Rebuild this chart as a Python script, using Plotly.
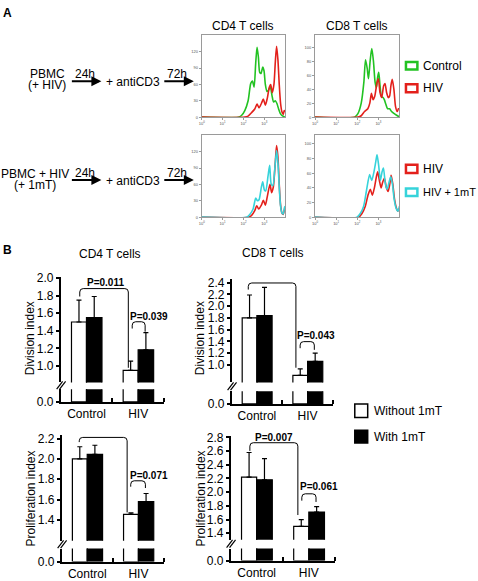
import plotly.graph_objects as go

W, H = 478, 581
FONT = "Arial, 'Liberation Sans', sans-serif"
GREEN = "#22c222"
RED = "#e3201b"
CYAN = "#36d3da"

# ---------------- Panel A: CFSE histograms (log10 fluorescence, event counts) ----------------
cd4_top_ctrl_log = [0, 1.746, 1.905, 2.063, 2.222, 2.349, 2.429, 2.508, 2.587, 2.651, 2.714, 2.778, 2.841,
                    2.921, 2.984, 3.048, 3.127, 3.206, 3.286, 3.365, 3.444, 3.524, 3.603, 3.683, 3.762,
                    3.841, 3.937, 4.0]
cd4_top_ctrl_cnt = [0, 0, 3, 12, 30, 62, 66, 55, 100, 128, 110, 82, 80, 92, 85, 60, 47, 50, 55, 40, 28, 30,
                    25, 15, 7, 3, 1, 0]
cd4_top_hiv_log = [0, 2.063, 2.222, 2.381, 2.540, 2.651, 2.746, 2.857, 2.952, 3.048, 3.143, 3.238, 3.302,
                   3.381, 3.460, 3.524, 3.587, 3.651, 3.714, 3.778, 3.841, 3.905, 3.952, 4.0]
cd4_top_hiv_cnt = [0, 0, 2, 8, 15, 24, 17, 25, 33, 22, 35, 55, 60, 45, 60, 100, 130, 105, 60, 25, 10, 5, 12, 10]

cd8_top_ctrl_log = [0, 1.875, 2.031, 2.188, 2.313, 2.391, 2.469, 2.531, 2.609, 2.688, 2.766, 2.844, 2.906,
                    2.969, 3.016, 3.078, 3.141, 3.219, 3.281, 3.359, 3.438, 3.531, 3.625, 3.75, 3.906, 4.0]
cd8_top_ctrl_cnt = [0, 0, 5, 20, 50, 82, 70, 55, 80, 98, 80, 50, 42, 58, 64, 45, 30, 28, 25, 18, 12, 12, 8,
                    5, 2, 0]
cd8_top_hiv_log = [0, 2.031, 2.188, 2.344, 2.5, 2.594, 2.672, 2.75, 2.828, 2.938, 3.0, 3.078, 3.156, 3.25,
                   3.313, 3.391, 3.469, 3.531, 3.594, 3.656, 3.734, 3.813, 3.891, 3.953, 4.0]
cd8_top_hiv_cnt = [0, 0, 2, 8, 12, 20, 34, 25, 30, 50, 55, 35, 28, 45, 48, 35, 28, 30, 45, 54, 40, 15, 8, 12, 12]

cd4_bot_hiv_log = [0, 2.222, 2.381, 2.540, 2.635, 2.730, 2.857, 2.952, 3.048, 3.143, 3.270, 3.349, 3.429,
                   3.524, 3.587, 3.651, 3.714, 3.778, 3.841, 3.905, 3.968, 4.0]
cd4_bot_hiv_cnt = [0, 0, 3, 12, 21, 15, 22, 31, 22, 38, 60, 45, 55, 100, 131, 110, 60, 22, 8, 5, 15, 18]
cd4_bot_mt_log = [0, 2.143, 2.302, 2.460, 2.587, 2.667, 2.746, 2.857, 2.921, 3.0, 3.063, 3.175, 3.254, 3.333,
                  3.413, 3.492, 3.587, 3.651, 3.714, 3.778, 3.841, 3.905, 3.968, 4.0]
cd4_bot_mt_cnt = [0, 0, 5, 15, 35, 30, 32, 55, 65, 50, 48, 75, 95, 60, 58, 85, 122, 100, 55, 20, 8, 6, 18, 20]

cd8_bot_hiv_log = [0, 2.063, 2.222, 2.381, 2.508, 2.619, 2.714, 2.810, 2.905, 2.968, 3.048, 3.127, 3.206,
                   3.286, 3.381, 3.460, 3.540, 3.603, 3.683, 3.762, 3.857, 3.921, 4.0]
cd8_bot_hiv_cnt = [0, 0, 5, 15, 30, 38, 30, 40, 55, 62, 50, 40, 48, 53, 40, 35, 45, 57, 45, 25, 12, 8, 12]
cd8_bot_mt_log = [0, 1.984, 2.143, 2.302, 2.429, 2.587, 2.683, 2.778, 2.873, 2.937, 3.016, 3.095, 3.175, 3.238,
                  3.333, 3.413, 3.508, 3.587, 3.667, 3.746, 3.841, 3.921, 4.0]
cd8_bot_mt_cnt = [0, 0, 5, 15, 35, 58, 50, 60, 75, 85, 70, 50, 62, 67, 45, 38, 48, 55, 45, 25, 12, 8, 15]

hist_xticks = [1, 10, 100, 1000]
hist_xticktext = ["10<sup>0</sup>", "10<sup>1</sup>", "10<sup>2</sup>", "10<sup>3</sup>"]
cd4_hist_yticks = [0, 30, 60, 90, 120]
cd8_hist_yticks = [0, 20, 40, 60, 80, 100]

# ---------------- Panel B: bar data ----------------
categories = ["Control", "HIV"]
cd4_div_without = [1.50, 0.95]
cd4_div_without_err = [0.25, 0.105]
cd4_div_with = [1.55, 1.185]
cd4_div_with_err = [0.24, 0.195]
cd8_div_without = [1.80, 0.82]
cd8_div_without_err = [0.39, 0.11]
cd8_div_with = [1.84, 1.06]
cd8_div_with_err = [0.48, 0.14]
cd4_pro_without = [2.00, 1.455]
cd4_pro_without_err = [0.12, 0.015]
cd4_pro_with = [2.045, 1.58]
cd4_pro_with_err = [0.09, 0.08]
cd8_pro_without = [2.22, 1.50]
cd8_pro_without_err = [0.36, 0.10]
cd8_pro_with = [2.18, 1.71]
cd8_pro_with_err = [0.31, 0.08]

cd4_div_ticks = [1.0, 1.2, 1.4, 1.6, 1.8, 2.0]
cd8_div_ticks = [1.0, 1.2, 1.4, 1.6, 1.8, 2.0, 2.2, 2.4]
cd4_pro_ticks = [1.4, 1.6, 1.8, 2.0, 2.2]
cd8_pro_ticks = [1.4, 1.6, 1.8, 2.0, 2.2, 2.4, 2.6, 2.8]

# P-value brackets: (label, x_left, x_right, y_top, y_left_end, y_right_end, label_x, label_y)
cd4_div_p = [("P=0.011", -0.13, 0.81, 1.88, 1.79, 0.98, 0.365, 1.948),
             ("P=0.039", 0.885, 1.135, 1.503, 1.426, 1.39, 1.21, 1.56)]
cd8_div_p = [("P=0.004", -0.17, 0.77, 2.395, 2.283, 0.95, 0.29, 2.505),
             ("P=0.043", 0.853, 1.133, 1.395, 1.283, 1.255, 1.167, 1.505)]
cd4_pro_p = [("P=0.022", -0.156, 0.78, 2.212, 2.166, 1.474, 0.345, 2.288),
             ("P=0.071", 0.85, 1.137, 1.785, 1.727, 1.714, 1.21, 1.84)]
cd8_pro_p = [("P=0.007", -0.13, 0.79, 2.723, 2.604, 1.666, 0.338, 2.794),
             ("P=0.061", 0.866, 1.138, 1.976, 1.876, 1.857, 1.195, 2.09)]


def xd(a, b):
    return [a / W, b / W]


def yd(top, bottom):
    return [1 - bottom / H, 1 - top / H]


def akey(letter, i):
    return f"{letter}axis" if i == 1 else f"{letter}axis{i}"


def aref(letter, i):
    return letter if i == 1 else f"{letter}{i}"


fig = go.Figure()
layout = dict(width=W, height=H, margin=dict(l=0, r=0, t=0, b=0), paper_bgcolor="white",
              plot_bgcolor="white", showlegend=False, barmode="overlay",
              font=dict(family=FONT, color="black", size=12))
shapes = []
annotations = []


def ann(text, x, y, size=12, bold=False, xanchor="center", angle=0):
    annotations.append(dict(text=f"<b>{text}</b>" if bold else text, x=x / W, y=1 - y / H,
                            xref="paper", yref="paper", showarrow=False, xanchor=xanchor,
                            yanchor="middle", textangle=angle, font=dict(size=size, family=FONT)))


# ---------- histograms ----------
hists = [
    (1, (200, 284), (30, 113.7), [0, 150], cd4_hist_yticks,
     [(cd4_top_ctrl_log, cd4_top_ctrl_cnt, GREEN), (cd4_top_hiv_log, cd4_top_hiv_cnt, RED)]),
    (2, (314, 399), (30, 113.7), [0, 117], cd8_hist_yticks,
     [(cd8_top_ctrl_log, cd8_top_ctrl_cnt, GREEN), (cd8_top_hiv_log, cd8_top_hiv_cnt, RED)]),
    (3, (200, 284), (131.7, 216), [0, 151], cd4_hist_yticks,
     [(cd4_bot_hiv_log, cd4_bot_hiv_cnt, RED), (cd4_bot_mt_log, cd4_bot_mt_cnt, CYAN)]),
    (4, (314, 399), (132, 216), [0, 112], cd8_hist_yticks,
     [(cd8_bot_hiv_log, cd8_bot_hiv_cnt, RED), (cd8_bot_mt_log, cd8_bot_mt_cnt, CYAN)]),
]
for i, xdom, ydom, yr, yt, series in hists:
    common = dict(showline=True, mirror=True, linecolor="#9a9a9a", linewidth=1, ticks="outside",
                  ticklen=2, tickcolor="#9a9a9a", tickfont=dict(size=4, color="#555"),
                  showgrid=False, zeroline=False)
    layout[akey("x", i)] = dict(domain=xd(*xdom), anchor=aref("y", i), type="log", range=[0, 4],
                                tickvals=hist_xticks, ticktext=hist_xticktext, **common)
    layout[akey("y", i)] = dict(domain=yd(*ydom), anchor=aref("x", i), range=yr, tickvals=yt, **common)
    for logs, cnts, col in series:
        fig.add_trace(go.Scatter(x=[10 ** v for v in logs], y=cnts, mode="lines",
                                 line=dict(color=col, width=1.6, shape="spline", smoothing=0.7),
                                 xaxis=aref("x", i), yaxis=aref("y", i), hoverinfo="skip"))

# ---------- bar charts ----------
charts = [
    dict(x=(58, 162), up=(277, 385), low=(392, 405), ur=(0.814, 2.014), lr=(0, 0.144),
         ticks=cd4_div_ticks, wo=cd4_div_without, woe=cd4_div_without_err, wi=cd4_div_with,
         wie=cd4_div_with_err, p=cd4_div_p),
    dict(x=(230, 332), up=(279, 385), low=(394, 407), ur=(0.7, 2.467), lr=(0, 0.217),
         ticks=cd8_div_ticks, wo=cd8_div_without, woe=cd8_div_without_err, wi=cd8_div_with,
         wie=cd8_div_with_err, p=cd8_div_p),
    dict(x=(59, 162), up=(439, 547), low=(555, 568.3), ur=(1.195, 2.234), lr=(0, 0.128),
         ticks=cd4_pro_ticks, wo=cd4_pro_without, woe=cd4_pro_without_err, wi=cd4_pro_with,
         wie=cd4_pro_with_err, p=cd4_pro_p),
    dict(x=(229, 334), up=(440, 546), low=(555, 567.3), ur=(1.304, 2.819), lr=(0, 0.176),
         ticks=cd8_pro_ticks, wo=cd8_pro_without, woe=cd8_pro_without_err, wi=cd8_pro_with,
         wie=cd8_pro_with_err, p=cd8_pro_p),
]
xpos = list(range(len(categories)))
for ci, ch in enumerate(charts):
    xi, yu, yl = 5 + ci, 5 + 2 * ci, 6 + 2 * ci
    yax = dict(showline=True, linecolor="black", linewidth=1.5, ticks="outside", ticklen=3,
               tickwidth=1.5, tickcolor="black", showgrid=False, zeroline=False,
               tickfont=dict(size=12, family=FONT))
    layout[akey("x", xi)] = dict(domain=xd(*ch["x"]), anchor=aref("y", yl), range=[-0.5, 1.5],
                                 tickvals=xpos, ticktext=categories, ticks="", showline=True,
                                 linecolor="black", linewidth=1.5, showgrid=False, zeroline=False,
                                 tickfont=dict(size=12, family=FONT),
                                 minor=dict(tickmode="array", tickvals=[0.5, 1.5], ticks="inside",
                                            ticklen=4, tickwidth=1.5, tickcolor="black"))
    layout[akey("y", yu)] = dict(domain=yd(*ch["up"]), anchor=aref("x", xi), range=list(ch["ur"]),
                                 tickvals=ch["ticks"], tickformat=".1f", **yax)
    layout[akey("y", yl)] = dict(domain=yd(*ch["low"]), anchor=aref("x", xi), range=list(ch["lr"]),
                                 tickvals=[0], ticktext=["0.0"], **yax)
    for vals, errs, fill, off, wd in [(ch["wo"], ch["woe"], "white", -0.29, 0.29),
                                      (ch["wi"], ch["wie"], "black", 0.0, 0.30)]:
        fig.add_trace(go.Bar(x=xpos, y=vals, width=wd, offset=off, xaxis=aref("x", xi),
                             yaxis=aref("y", yu),
                             marker=dict(color=fill, line=dict(color="black", width=1.2)),
                             error_y=dict(type="data", symmetric=False, array=errs,
                                          arrayminus=[0] * len(errs), color="black",
                                          thickness=1.2, width=2.5),
                             hoverinfo="skip"))
        fig.add_trace(go.Bar(x=xpos, y=vals, width=wd, offset=off, xaxis=aref("x", xi),
                             yaxis=aref("y", yl),
                             marker=dict(color=fill, line=dict(color="black", width=1.2)),
                             hoverinfo="skip"))
    # brackets
    ppx = (ch["x"][1] - ch["x"][0]) / 2.0
    ppy = (ch["up"][1] - ch["up"][0]) / (ch["ur"][1] - ch["ur"][0])
    rx, ry = 3.5 / ppx, 3.5 / ppy
    for lab, xl, xr, yt, ybl, ybr, lx, ly in ch["p"]:
        path = (f"M {xl},{ybl} L {xl},{yt - ry} Q {xl},{yt} {xl + rx},{yt} "
                f"L {xr - rx},{yt} Q {xr},{yt} {xr},{yt - ry} L {xr},{ybr}")
        shapes.append(dict(type="path", path=path, xref=aref("x", xi), yref=aref("y", yu),
                           line=dict(color="black", width=1)))
        annotations.append(dict(text=f"<b>{lab}</b>", x=lx, y=ly, xref=aref("x", xi),
                                yref=aref("y", yu), showarrow=False, yanchor="middle",
                                font=dict(size=10, family=FONT)))
    # axis break marks
    x0 = ch["x"][0]
    gm = (ch["up"][1] + ch["low"][0]) / 2.0
    for dx in (0, 3):
        shapes.append(dict(type="line", xref="paper", yref="paper",
                           x0=(x0 - 4 + dx) / W, y0=1 - (gm + 3.5) / H,
                           x1=(x0 + 2 + dx) / W, y1=1 - (gm - 4.5) / H,
                           line=dict(color="black", width=1.2)))

# ---------- text, flowchart, legends ----------
ann("A", 5, 7, size=12, bold=True)
ann("B", 5, 250, size=12, bold=True)
ann("CD4 T cells", 242, 20)
ann("CD8 T cells", 356, 20)
ann("CD4 T cells", 108, 254)
ann("CD8 T cells", 272, 253)

ann("PBMC", 45, 70)
ann("(+ HIV)", 44.5, 81)
ann("PBMC + HIV", 32, 171.5)
ann("(+ 1mT)", 31.7, 183.5)
for yrow, ytxt in ((77, 69.5), (178, 171)):
    ann("24h", 83, ytxt)
    ann("72h", 175, ytxt)
    ann("+ antiCD3", 130.5, yrow + 0.5)
    for xhead in (99, 192):
        annotations.append(dict(text="", x=xhead / W, y=1 - yrow / H, xref="paper", yref="paper",
                                ax=-31, ay=0, axref="pixel", ayref="pixel", showarrow=True,
                                arrowhead=2, arrowsize=1, arrowwidth=2, arrowcolor="black"))

for (y0, y1, col, label, fs) in [(57.3, 65, GREEN, "Control", 12), (80, 88.3, RED, "HIV", 12),
                                 (162.3, 170.7, RED, "HIV", 12),
                                 (186.7, 194.3, CYAN, "HIV + 1mT", 11)]:
    shapes.append(dict(type="rect", xref="paper", yref="paper", x0=405.5 / W, x1=417 / W,
                       y0=1 - y1 / H, y1=1 - y0 / H, line=dict(color=col, width=2.5),
                       fillcolor="white"))
    ann(label, 421, (y0 + y1) / 2, size=fs, xanchor="left")

for (y0, y1, fill, label) in [(407, 421, "white", "Without 1mT"), (434, 447, "black", "With 1mT")]:
    shapes.append(dict(type="rect", xref="paper", yref="paper", x0=354 / W, x1=367 / W,
                       y0=1 - y1 / H, y1=1 - y0 / H, line=dict(color="black", width=1.5),
                       fillcolor=fill))
    ann(label, 371, (y0 + y1) / 2, xanchor="left")

ann("Division index", 28, 340, angle=-90)
ann("Division index", 199, 340, angle=-90)
ann("Proliferation index", 28, 504, angle=-90)
ann("Proliferation index", 199, 504, angle=-90)

layout["shapes"] = shapes
layout["annotations"] = annotations
fig.update_layout(**layout)
fig.write_html("out.html", config={"displayModeBar": False},
               post_script="document.body.style.margin='0';document.body.style.padding='0';")
